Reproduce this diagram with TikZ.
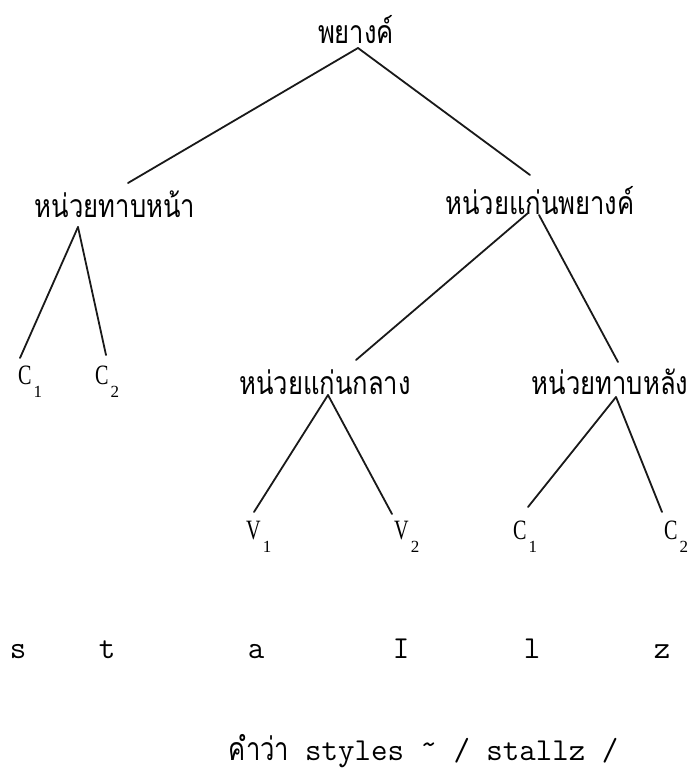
\documentclass[tikz,border=0pt]{standalone}
\usepackage{fontspec}
\usepackage{graphicx}
\newfontfamily\thaifont[Script=Thai]{Loma}
\newfontfamily\latf{Liberation Serif}
\newcommand\thsx{0.8}
\newcommand\thtext[1]{\scalebox{\thsx}[1]{\thaifont\fontsize{32}{36}\selectfont #1}}
\newcommand\leaf[2]{\scalebox{0.72}[1]{\latf\fontsize{28}{30}\selectfont #1}\hspace{2pt}\raisebox{-13pt}{\latf\fontsize{17}{18}\selectfont #2}}
\newcommand\mono[1]{{\ttfamily\fontsize{32}{36}\selectfont #1}}
\begin{document}
\begin{tikzpicture}[x=1pt,y=-1pt,
  lbl/.style={inner sep=0pt, anchor=base},
  lf/.style={inner sep=0pt, anchor=base west},
  conn/.style={line width=1.8pt, line cap=round, draw=black!90}]
\useasboundingbox (0,0) rectangle (690,774);
% internal nodes
\node[lbl] (root) at (356,43) {\thtext{พยางค์}};
\node[lbl] (onset) at (115,217) {\thtext{หน่วยทาบหน้า}};
\node[lbl] (rhyme) at (540,214) {\thtext{หน่วยแก่นพยางค์}};
\node[lbl] (nucleus) at (325,394) {\thtext{หน่วยแก่นกลาง}};
\node[lbl] (coda) at (610,394) {\thtext{หน่วยทาบหลัง}};
% leaves
\node[lf] (c1a) at (18,384) {\leaf{C}{1}};
\node[lf] (c2a) at (95,384) {\leaf{C}{2}};
\node[lf] (v1) at (246,539) {\leaf{V}{1}};
\node[lf] (v2) at (394,539) {\leaf{V}{2}};
\node[lf] (c1b) at (513,539) {\leaf{C}{1}};
\node[lf] (c2b) at (664,539) {\leaf{C}{2}};
% connectors
\draw[conn] ([shift={(2,5)}]root.base) -- ([shift={(13,-34)}]onset.base);
\draw[conn] ([shift={(2,5)}]root.base) -- ([shift={(-10,-39)}]rhyme.base);
\draw[conn] ([shift={(-37,10)}]onset.base) -- ([shift={(2,-26)}]c1a.base west);
\draw[conn] ([shift={(-37,10)}]onset.base) -- ([shift={(11,-29)}]c2a.base west);
\draw[conn] ([shift={(-12,-1)}]rhyme.base) -- ([shift={(31,-34)}]nucleus.base);
\draw[conn] ([shift={(-1,1)}]rhyme.base) -- ([shift={(8,-32)}]coda.base);
\draw[conn] ([shift={(3,1)}]nucleus.base) -- ([shift={(8,-27)}]v1.base west);
\draw[conn] ([shift={(3,1)}]nucleus.base) -- ([shift={(-2,-25)}]v2.base west);
\draw[conn] ([shift={(6,3)}]coda.base) -- ([shift={(15,-32)}]c1b.base west);
\draw[conn] ([shift={(6,3)}]coda.base) -- ([shift={(-2,-27)}]c2b.base west);
% segments
\node[lbl] (ps) at (18,658) {\mono{s}};
\node[lbl] (pt) at (107,658) {\mono{t}};
\node[lbl] (pa) at (256,658) {\mono{a}};
\node[lbl] (pI) at (401,658) {\mono{I}};
\node[lbl] (pl) at (532,658) {\mono{l}};
\node[lbl] (pz) at (662,658) {\mono{z}};
% caption
\node[lbl] (capth) at (259,760) {\thtext{คำว่า}};
\node[lf] (capw) at (305,760) {\mono{styles \raisebox{6pt}{\textasciitilde} / stallz /}};
\end{tikzpicture}
\end{document}
